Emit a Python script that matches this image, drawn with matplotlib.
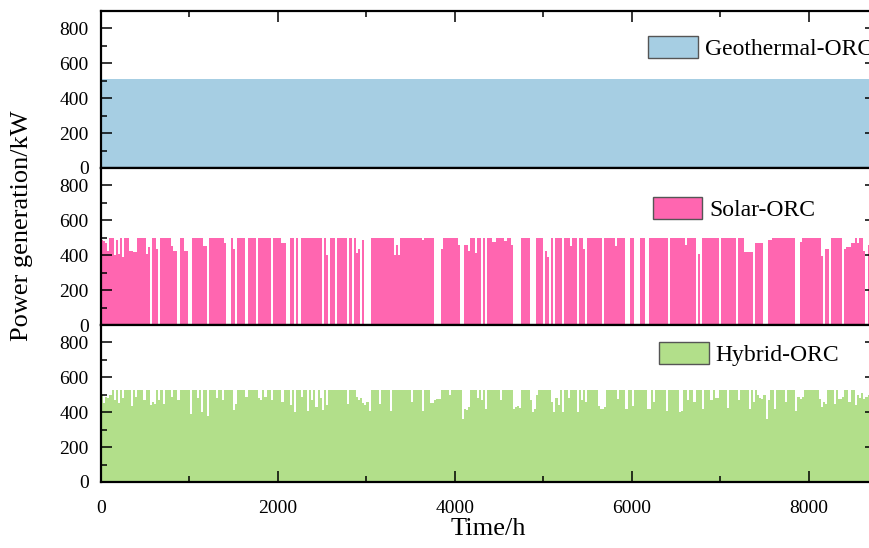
import numpy as np
import matplotlib
matplotlib.use("Agg")
from matplotlib import pyplot as plt
from matplotlib.patches import Patch
from matplotlib.ticker import MultipleLocator

plt.rcParams['font.family'] = ['Liberation Serif', 'DejaVu Serif']

# one year, shown as daily levels (kW)
hours_per_day = 24
n_days = 365

geothermal_kw = 510

solar_kw = [
    490, 480, 470, 423, 500, 500, 400, 490, 408, 500,
    392, 500, 500, 427, 427, 419, 419, 500, 500, 500,
    500, 408, 445, 0, 500, 500, 438, 0, 500, 500,
    500, 500, 500, 452, 423, 423, 0, 500, 500, 423,
    423, 0, 0, 500, 500, 500, 500, 500, 452, 452,
    0, 500, 500, 500, 500, 500, 500, 500, 470, 0,
    0, 500, 433, 0, 500, 500, 500, 500, 0, 500,
    500, 500, 500, 0, 500, 500, 500, 500, 500, 500,
    0, 500, 500, 500, 500, 470, 470, 0, 0, 500,
    500, 0, 500, 0, 500, 500, 500, 500, 500, 500,
    500, 500, 500, 500, 0, 500, 400, 0, 500, 500,
    0, 500, 500, 500, 500, 500, 0, 500, 0, 500,
    413, 433, 0, 485, 0, 0, 0, 500, 500, 500,
    500, 500, 500, 500, 500, 500, 500, 500, 400, 457,
    400, 500, 500, 500, 500, 500, 500, 500, 500, 500,
    500, 487, 500, 500, 500, 500, 500, 0, 0, 0,
    438, 500, 500, 500, 500, 500, 500, 500, 457, 0,
    0, 457, 457, 423, 500, 500, 413, 500, 500, 0,
    500, 0, 500, 500, 477, 477, 500, 500, 500, 500,
    480, 500, 500, 457, 0, 0, 0, 0, 500, 500,
    500, 500, 0, 0, 0, 500, 500, 500, 0, 427,
    390, 0, 500, 0, 500, 500, 500, 0, 500, 500,
    500, 452, 500, 500, 0, 500, 500, 433, 0, 500,
    500, 500, 500, 500, 500, 500, 0, 500, 500, 500,
    500, 500, 452, 500, 500, 500, 500, 0, 0, 500,
    500, 0, 0, 0, 500, 500, 0, 0, 500, 500,
    500, 500, 500, 500, 500, 500, 500, 0, 500, 500,
    500, 500, 500, 500, 500, 457, 500, 500, 500, 500,
    0, 408, 0, 500, 500, 500, 500, 500, 500, 500,
    500, 0, 500, 500, 500, 500, 500, 500, 500, 0,
    500, 500, 500, 419, 419, 419, 419, 0, 470, 470,
    470, 470, 0, 0, 485, 485, 500, 500, 500, 500,
    500, 500, 500, 500, 500, 500, 500, 0, 0, 477,
    500, 500, 500, 500, 500, 500, 500, 500, 500, 398,
    0, 438, 438, 0, 500, 500, 500, 500, 500, 0,
    433, 445, 445, 470, 470, 500, 470, 500, 500, 423,
    0, 460, 500, 500, 0,
]

hybrid_kw = [
    500, 455, 490, 480, 500, 525, 470, 525, 455, 525,
    480, 525, 525, 525, 436, 525, 490, 525, 525, 525,
    470, 525, 525, 440, 460, 450, 525, 470, 525, 450,
    525, 525, 525, 490, 525, 525, 470, 525, 525, 525,
    525, 525, 390, 525, 525, 480, 525, 400, 525, 525,
    380, 525, 525, 525, 480, 525, 525, 470, 525, 525,
    525, 525, 410, 450, 525, 525, 525, 525, 490, 525,
    525, 525, 525, 525, 480, 470, 525, 485, 525, 525,
    470, 525, 525, 525, 525, 460, 525, 525, 525, 440,
    525, 400, 525, 525, 490, 525, 525, 405, 525, 470,
    525, 430, 525, 480, 410, 525, 440, 525, 525, 525,
    525, 525, 525, 525, 525, 525, 450, 525, 525, 525,
    490, 470, 480, 455, 440, 460, 405, 525, 525, 525,
    525, 450, 525, 525, 525, 525, 405, 525, 525, 525,
    525, 525, 525, 525, 525, 525, 460, 525, 525, 525,
    525, 405, 525, 525, 525, 455, 455, 470, 474, 474,
    525, 525, 525, 525, 500, 525, 525, 525, 525, 525,
    362, 420, 410, 430, 525, 525, 525, 480, 525, 470,
    525, 420, 525, 525, 525, 525, 525, 525, 470, 525,
    525, 525, 525, 525, 416, 430, 436, 425, 525, 525,
    525, 525, 470, 400, 420, 500, 525, 525, 525, 525,
    525, 525, 460, 400, 480, 440, 525, 400, 525, 525,
    480, 525, 525, 525, 400, 525, 470, 525, 460, 525,
    525, 525, 525, 525, 436, 420, 416, 430, 525, 525,
    525, 525, 525, 474, 525, 525, 525, 416, 525, 525,
    436, 525, 525, 525, 525, 525, 525, 416, 416, 525,
    460, 525, 525, 525, 525, 525, 405, 525, 525, 525,
    525, 525, 400, 405, 525, 525, 470, 525, 525, 460,
    525, 525, 525, 416, 525, 525, 525, 470, 525, 483,
    483, 525, 525, 525, 525, 425, 525, 525, 525, 525,
    470, 525, 525, 525, 525, 416, 525, 460, 525, 500,
    480, 474, 500, 362, 470, 525, 525, 416, 525, 525,
    525, 525, 460, 525, 525, 525, 525, 405, 485, 474,
    490, 525, 525, 525, 525, 525, 525, 525, 474, 430,
    460, 445, 525, 525, 525, 450, 525, 474, 474, 490,
    525, 525, 460, 525, 525, 440, 500, 480, 510, 474,
    490, 500, 525, 510, 525,
]

labels = ["Geothermal-ORC", "Solar-ORC", "Hybrid-ORC"]
colors = ["#a6cee3", "#ff66b0", "#b2df8a"]
legend_x = [0.706, 0.712, 0.72]
legend_y = [0.763, 0.739, 0.815]

edges = np.arange(n_days + 1) * hours_per_day

fig = plt.figure(figsize=(8.69, 5.48), dpi=100)
left, width = 101 / 869, 775 / 869
h = 157 / 548
bottoms = [(548 - 168) / 548, (548 - 325) / 548, (548 - 482) / 548]
axs = [fig.add_axes([left, b, width, h]) for b in bottoms]

axs[0].fill_between([0, edges[-1]], 0, geothermal_kw, color=colors[0], lw=0)
axs[1].stairs(solar_kw, edges, fill=True, color=colors[1], lw=0)
axs[2].stairs(hybrid_kw, edges, fill=True, color=colors[2], lw=0)

for i, ax in enumerate(axs):
    ax.set_xlim(0, 8760)
    ax.set_ylim(0, 900)
    ax.yaxis.set_major_locator(MultipleLocator(200))
    ax.yaxis.set_minor_locator(MultipleLocator(100))
    ax.xaxis.set_major_locator(MultipleLocator(2000))
    ax.xaxis.set_minor_locator(MultipleLocator(1000))
    last = i == len(axs) - 1
    ax.tick_params(which='both', direction='in', left=True, right=True,
                   top=(i == 0), bottom=last, labelbottom=last, labelsize=14)
    ax.tick_params(which='major', length=8, width=1.1)
    ax.tick_params(which='minor', length=4, width=1.1)
    ax.tick_params(axis='y', which='major', pad=9)
    ax.tick_params(axis='x', which='major', pad=13)
    for sp in ax.spines.values():
        sp.set_linewidth(1.6)
    ax.legend(handles=[Patch(facecolor=colors[i], edgecolor='#555555', lw=1, label=labels[i])],
              loc='center left', bbox_to_anchor=(legend_x[i], legend_y[i]), frameon=False,
              fontsize=17, handlelength=2.1, handleheight=1.06, handletextpad=0.3,
              borderpad=0, borderaxespad=0)

axs[2].set_xlabel("Time/h", fontsize=19, labelpad=1)
fig.text(22 / 869, 1 - 226 / 548, "Power generation/kW", rotation=90,
         fontsize=19, ha='center', va='center')

fig.savefig("out.png", dpi=100)
